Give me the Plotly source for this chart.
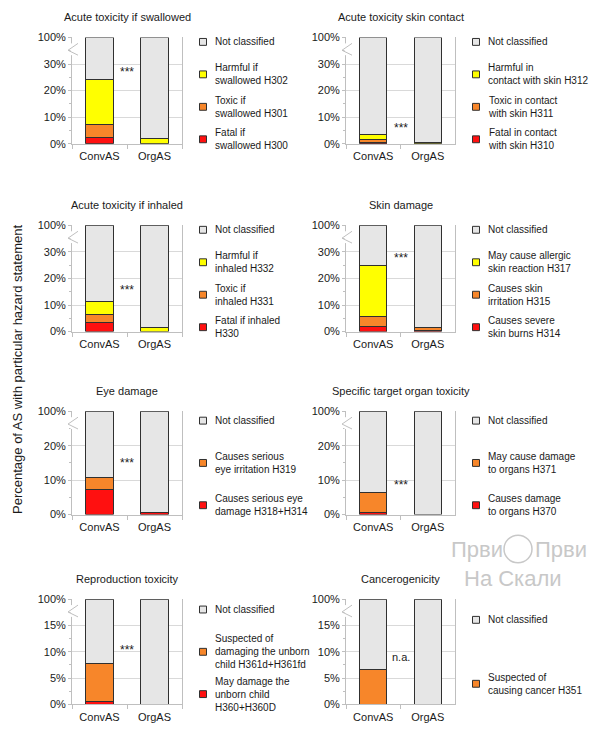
import numpy as np
import plotly.graph_objects as go

W, H = 600, 737
FONT = "Liberation Sans, Arial, sans-serif"

categories = ["ConvAS", "OrgAS"]

titles = ["Acute toxicity if swallowed", "Acute toxicity skin contact",
          "Acute toxicity if inhaled", "Skin damage", "Eye damage",
          "Specific target organ toxicity", "Reproduction toxicity", "Cancerogenicity"]

# broken-axis tick values (%) per panel
ticks_a = [0, 10, 20, 30, 100]
ticks_b = [0, 10, 20, 100]
ticks_c = [0, 5, 10, 15, 100]
panel_ticks = [ticks_a, ticks_a, ticks_a, ticks_a, ticks_b, ticks_b, ticks_c, ticks_c]

not_classified = "Not classified"

# series per panel, bottom -> top (Not classified fills to 100 %)
swallow_labels = ["Fatal if<br>swallowed H300", "Toxic if<br>swallowed H301", "Harmful if<br>swallowed H302"]
swallow_conv = [2.5, 4.6, 17.2]
swallow_org = [0.0, 0.0, 1.8]

skin_contact_labels = ["Fatal in contact<br>with skin H310", "Toxic in contact<br>with skin H311",
                       "Harmful in<br>contact with skin H312"]
skin_contact_conv = [0.3, 1.2, 2.0]
skin_contact_org = [0.0, 0.0, 0.6]

inhaled_labels = ["Fatal if inhaled<br>H330", "Toxic if<br>inhaled H331", "Harmful if<br>inhaled H332"]
inhaled_conv = [3.5, 2.8, 5.2]
inhaled_org = [0.0, 0.0, 1.5]

skin_damage_labels = ["Causes severe<br>skin burns H314", "Causes skin<br>irritation H315",
                      "May cause allergic<br>skin reaction H317"]
skin_damage_conv = [1.9, 3.6, 19.5]
skin_damage_org = [0.6, 1.1, 0.0]

eye_labels = ["Causes serious eye<br>damage H318+H314", "Causes serious<br>eye irritation H319"]
eye_conv = [7.2, 3.6]
eye_org = [0.75, 0.0]

organ_labels = ["Causes damage<br>to organs H370", "May cause damage<br>to organs H371"]
organ_conv = [0.6, 5.7]
organ_org = [0.0, 0.0]

repro_labels = ["May damage the<br>unborn child<br>H360+H360D",
                "Suspected of<br>damaging the unborn<br>child H361d+H361fd"]
repro_conv = [0.6, 7.2]
repro_org = [0.0, 0.0]

cancer_labels = ["Suspected of<br>causing cancer H351"]
cancer_conv = [6.6]
cancer_org = [0.0]

significance = ["***", "***", "***", "***", "***", "***", "***", "n.a."]
significance_level = [27, 6, 15.5, 27.8, 14.9, 8.6, 10.3, 9.0]  # % height of the label

RED, ORANGE, YELLOW, GRAY = "#FF1010", "#F7862A", "#FFFF00", "#E6E6E6"
three_colors = [RED, ORANGE, YELLOW]
two_colors = [RED, ORANGE]

panels = [
    (swallow_labels, three_colors, swallow_conv, swallow_org),
    (skin_contact_labels, three_colors, skin_contact_conv, skin_contact_org),
    (inhaled_labels, three_colors, inhaled_conv, inhaled_org),
    (skin_damage_labels, three_colors, skin_damage_conv, skin_damage_org),
    (eye_labels, two_colors, eye_conv, eye_org),
    (organ_labels, two_colors, organ_conv, organ_org),
    (repro_labels, two_colors, repro_conv, repro_org),
    (cancer_labels, [ORANGE], cancer_conv, cancer_org),
]

EDGE = "#303030"
AXC = "#BFBFBF"
GRID = "#D9D9D9"
TXT = "#1a1a1a"

cols_x = [(72, 182), (346, 455)]
rows_y = [(32, 140), (223, 331), (412, 517), (603, 710)]
legend_spacing = {4: 33, 3: 43, 2: 65}


def px_x(v):
    return v / W


def px_y(v):
    return 1 - v / H


fig = go.Figure()
annotations = []
shapes = []

for i, (labels, colors, conv, org) in enumerate(panels):
    r, c = divmod(i, 2)
    x0, x1 = cols_x[c]
    y0, y1 = rows_y[r]
    sfx = "" if i == 0 else str(i + 1)
    xa, ya = "x" + sfx, "y" + sfx
    ticks = panel_ticks[i]
    idx = np.arange(len(ticks))

    def disp(v, ticks=ticks, idx=idx):
        return np.interp(v, ticks, idx)

    nc = [100 - sum(conv), 100 - sum(org)]
    series = list(zip(labels, colors, conv, org)) + [(not_classified, GRAY, nc[0], nc[1])]
    cum = np.zeros(2)
    for label, color, cv, ov in series:
        vals = np.array([cv, ov], dtype=float)
        top = cum + vals
        hts = disp(top) - disp(cum)
        ys = [float(hh) if v > 0 else None for hh, v in zip(hts, vals)]
        fig.add_trace(go.Bar(
            x=categories, y=ys, xaxis=xa, yaxis=ya, showlegend=False,
            name=label.replace("<br>", " "),
            customdata=vals, hovertemplate="%{x}: %{customdata:.1f}%<extra>%{fullData.name}</extra>",
            marker=dict(color=color, line=dict(color=EDGE, width=1)),
        ))
        cum = top

    fig.layout["xaxis" + sfx] = dict(
        domain=[px_x(x0), px_x(x1)], anchor=ya, range=[-0.5, 1.5],
        type="category", tickson="boundaries", ticks="outside", ticklen=4, tickcolor=AXC,
        ticklabelstandoff=2,
        showline=True, linecolor=AXC, linewidth=1, showgrid=False,
        tickfont=dict(size=11, color=TXT, family=FONT), fixedrange=True)
    fig.layout["yaxis" + sfx] = dict(
        domain=[px_y(y1), px_y(y0)], anchor=xa, range=[0, len(ticks) - 1],
        tickmode="array", tickvals=list(idx), ticktext=[f"{t}%" for t in ticks],
        ticks="outside", ticklen=3, tickcolor=AXC,
        minor=dict(tickvals=list(idx[:-1] + 0.5), ticks="outside", ticklen=2, tickcolor=AXC),
        showline=True, linecolor=AXC, linewidth=1, mirror=True,
        showgrid=True, gridcolor=GRID, gridwidth=1, zeroline=False,
        tickfont=dict(size=11, color=TXT, family=FONT), fixedrange=True)

    # panel title
    annotations.append(dict(
        text=titles[i], xref="paper", yref="paper", x=px_x((x0 + x1) / 2), y=px_y(y0 - 21),
        xanchor="center", yanchor="middle", showarrow=False,
        font=dict(size=11, color=TXT, family=FONT)))

    # significance mark between bars
    annotations.append(dict(
        text=significance[i], xref=xa, yref=ya, x=0.5, y=float(disp(significance_level[i])),
        xanchor="center", yanchor="middle", showarrow=False,
        font=dict(size=12 if significance[i] == "***" else 11, color=TXT, family=FONT)))

    # axis break symbol
    bx = x0
    bt = y0 + 6
    shapes.append(dict(type="rect", xref="paper", yref="paper",
                       x0=px_x(bx - 1.5), x1=px_x(bx + 1.5), y0=px_y(bt + 12), y1=px_y(bt),
                       fillcolor="white", line=dict(width=0), layer="above"))
    shapes.append(dict(type="path", xref="paper", yref="paper",
                       path=(f"M{px_x(bx + 6)},{px_y(bt)} L{px_x(bx - 4)},{px_y(bt + 7)} "
                             f"L{px_x(bx + 6)},{px_y(bt + 12)}"),
                       line=dict(color=AXC, width=1), layer="above"))

    # legend (top to bottom: Not classified, then series from top of stack)
    entries = [(not_classified, GRAY)] + [(l, col) for l, col in zip(labels[::-1], colors[::-1])]
    n = len(entries)
    mid = (y0 + y1) / 2
    sp = legend_spacing[n]
    for j, (label, color) in enumerate(entries):
        yc = mid + (j - (n - 1) / 2) * sp
        mx = x1 + 21
        shapes.append(dict(type="rect", xref="paper", yref="paper",
                           x0=px_x(mx - 3.5), x1=px_x(mx + 3.5), y0=px_y(yc + 3.5), y1=px_y(yc - 3.5),
                           fillcolor=color, line=dict(color=EDGE, width=1)))
        annotations.append(dict(
            text=label, xref="paper", yref="paper", x=px_x(x1 + 31), y=px_y(yc),
            xanchor="left", yanchor="middle", align="left", showarrow=False,
            font=dict(size=10, color=TXT, family=FONT)))

# common y-axis title
annotations.append(dict(
    text="Percentage of AS with particular hazard statement", xref="paper", yref="paper",
    x=px_x(18), y=px_y(370), xanchor="center", yanchor="middle", textangle=-90,
    showarrow=False, font=dict(size=13, color=TXT, family=FONT)))

# watermark
WM = "#C8C8C8"
annotations.append(dict(text="Први", xref="paper", yref="paper", x=px_x(477), y=px_y(552),
                        xanchor="center", yanchor="middle", showarrow=False,
                        font=dict(size=22, color=WM, family=FONT)))
annotations.append(dict(text="Први", xref="paper", yref="paper", x=px_x(561), y=px_y(552),
                        xanchor="center", yanchor="middle", showarrow=False,
                        font=dict(size=22, color=WM, family=FONT)))
annotations.append(dict(text="На Скали", xref="paper", yref="paper", x=px_x(513), y=px_y(582),
                        xanchor="center", yanchor="middle", showarrow=False,
                        font=dict(size=22, color=WM, family=FONT)))
shapes.append(dict(type="circle", xref="paper", yref="paper",
                   x0=px_x(504), x1=px_x(532), y0=px_y(566), y1=px_y(538),
                   line=dict(color=WM, width=1.5)))

fig.update_layout(
    width=W, height=H, margin=dict(l=0, r=0, t=0, b=0),
    paper_bgcolor="white", plot_bgcolor="white",
    barmode="stack", bargap=0.5, showlegend=False,
    annotations=annotations, shapes=shapes,
    font=dict(family=FONT, color=TXT),
)

fig.write_html("out.html", post_script="document.body.style.margin='0px';",
               config={"displayModeBar": False})
